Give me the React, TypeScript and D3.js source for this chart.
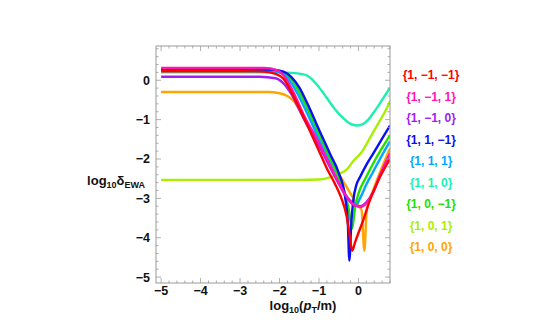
import React from "react";
import * as d3 from "d3";

// x = log10(pT/m), y = log10(delta_EWA)
const labels = ["{1, −1, −1}", "{1, −1, 1}", "{1, −1, 0}", "{1, 1, −1}", "{1, 1, 1}", "{1, 1, 0}", "{1, 0, −1}", "{1, 0, 1}", "{1, 0, 0}"];
const colors = ["#ff0000", "#ff14b4", "#a020f0", "#0a10f0", "#00a8ff", "#1cf0b0", "#22e000", "#aaee00", "#ffa500"];

const red: [number, number][] = [[-5, 0.23], [-3, 0.23], [-2.4, 0.22], [-2.1, 0.16], [-1.9, 0.04], [-1.7, -0.3], [-1.5, -0.7], [-1.35, -1.02], [-1.2, -1.35], [-0.97, -1.86], [-0.8, -2.24], [-0.6, -2.62], [-0.45, -2.95], [-0.3, -3.45], [-0.22, -3.95], [-0.16, -4.33], [-0.08, -4.1], [0, -3.88], [0.12, -3.56], [0.29, -3.05], [0.5, -2.55], [0.8, -2.0]];
const magenta: [number, number][] = [[-5, 0.31], [-2.4, 0.31], [-2.05, 0.25], [-1.85, 0.06], [-1.65, -0.3], [-1.4, -0.85], [-0.97, -1.65], [-0.7, -2.2], [-0.5, -2.6], [-0.3, -2.95], [-0.1, -3.17], [0.04, -3.22], [0.2, -3.12], [0.37, -2.85], [0.55, -2.4], [0.8, -1.85]];
const purple: [number, number][] = [[-5, 0.09], [-2.5, 0.09], [-2.1, 0.05], [-1.9, -0.08], [-1.7, -0.35], [-1.4, -0.95], [-0.97, -1.72], [-0.7, -2.25], [-0.5, -2.63], [-0.3, -2.97], [-0.1, -3.18], [0.04, -3.2], [0.2, -3.1], [0.37, -2.85], [0.55, -2.42], [0.8, -1.88]];
const blue: [number, number][] = [[-5, 0.27], [-2.2, 0.27], [-1.9, 0.22], [-1.7, 0.08], [-1.5, -0.18], [-1.3, -0.58], [-0.97, -1.32], [-0.7, -1.91], [-0.5, -2.35], [-0.34, -2.95], [-0.27, -3.6], [-0.23, -4.58], [-0.18, -3.6], [-0.13, -3.05], [-0.05, -2.65], [0.04, -2.46], [0.2, -2.15], [0.37, -1.87], [0.6, -1.48], [0.8, -1.15]];
const lightBlue: [number, number][] = [[-5, 0.25], [-2.3, 0.25], [-1.95, 0.18], [-1.75, 0.0], [-1.55, -0.33], [-1.3, -0.84], [-0.97, -1.57], [-0.7, -2.16], [-0.5, -2.6], [-0.3, -2.95], [-0.15, -3.1], [-0.05, -3.15], [0.05, -2.98], [0.2, -2.65], [0.37, -2.33], [0.6, -1.9], [0.8, -1.55]];
const cyan: [number, number][] = [[-5, 0.2], [-2.0, 0.2], [-1.6, 0.18], [-1.3, 0.12], [-1.0, -0.18], [-0.8, -0.45], [-0.6, -0.73], [-0.4, -0.95], [-0.2, -1.11], [-0.05, -1.15], [0.1, -1.12], [0.25, -1.0], [0.4, -0.8], [0.6, -0.5], [0.8, -0.19]];
const green: [number, number][] = [[-5, 0.27], [-2.2, 0.27], [-1.9, 0.2], [-1.7, 0.03], [-1.5, -0.3], [-1.3, -0.71], [-0.97, -1.44], [-0.7, -2.03], [-0.5, -2.47], [-0.35, -2.85], [-0.25, -3.25], [-0.16, -3.77], [-0.08, -3.2], [0, -2.88], [0.2, -2.45], [0.37, -2.12], [0.6, -1.72], [0.8, -1.4]];
const yellowGreen: [number, number][] = [[-5, -2.53], [-1.5, -2.53], [-1.0, -2.52], [-0.7, -2.46], [-0.5, -2.38], [-0.3, -2.27], [-0.13, -2.05], [0.1, -1.8], [0.29, -1.47], [0.5, -1.1], [0.7, -0.75], [0.8, -0.53]];
const orange: [number, number][] = [[-5, -0.3], [-2.3, -0.3], [-2.0, -0.33], [-1.8, -0.4], [-1.65, -0.52], [-1.3, -1.1], [-0.97, -1.62], [-0.7, -2.06], [-0.4, -2.54], [-0.2, -2.88], [-0.05, -3.13], [0.08, -3.3], [0.15, -4.33], [0.21, -3.3], [0.37, -2.8], [0.6, -2.2], [0.8, -1.73]];

const series = [red, magenta, purple, blue, lightBlue, cyan, green, yellowGreen, orange];
const xTicks = [-5, -4, -3, -2, -1, 0];
const yTicks = [0, -1, -2, -3, -4, -5];

const W = 548, H = 329;
const L = 156, R = 390, T = 46, B = 283;

export default function App() {
  const x = d3.scaleLinear().domain([-5.13, 0.8]).range([L, R]);
  const y = d3.scaleLinear().domain([0.87, -5.15]).range([T, B]);
  const line = d3.line<[number, number]>().x(d => x(d[0])).y(d => y(d[1])).curve(d3.curveMonotoneX);

  const xMinor = d3.range(-5.2, 0.81, 0.2).filter(v => v >= -5.13 && v <= 0.8);
  const yMinor = d3.range(0.8, -5.21, -0.2).filter(v => v <= 0.87 && v >= -5.15);
  const font = "'Liberation Sans', Arial, sans-serif";
  const frame = "#9a9a9a";

  return (
    <svg width={W} height={H} style={{ position: "absolute", left: 0, top: 0, background: "#fff" }}>
      <defs>
        <clipPath id="plot"><rect x={L} y={T} width={R - L} height={B - T} /></clipPath>
      </defs>
      <g clipPath="url(#plot)" fill="none" strokeWidth={2.4} strokeLinejoin="round">
        {series.map((s, i) => ({ s, i })).reverse().map(({ s, i }) => (
          <path key={i} d={line(s) || ""} stroke={colors[i]} />
        ))}
      </g>
      <rect x={L} y={T} width={R - L} height={B - T} fill="none" stroke={frame} strokeWidth={1} />
      <g stroke={frame} strokeWidth={0.8}>
        {xMinor.map((v, i) => {
          const major = xTicks.some(t => Math.abs(t - v) < 1e-6);
          const len = major ? 5 : 2.5;
          return (
            <g key={"x" + i}>
              <line x1={x(v)} x2={x(v)} y1={B} y2={B - len} />
              <line x1={x(v)} x2={x(v)} y1={T} y2={T + len} />
            </g>
          );
        })}
        {yMinor.map((v, i) => {
          const major = yTicks.some(t => Math.abs(t - v) < 1e-6);
          const len = major ? 5 : 2.5;
          return (
            <g key={"y" + i}>
              <line x1={L} x2={L + len} y1={y(v)} y2={y(v)} />
              <line x1={R} x2={R - len} y1={y(v)} y2={y(v)} />
            </g>
          );
        })}
      </g>
      <g fontFamily={font} fontWeight="bold" fontSize={12.5} fill="#111">
        {xTicks.map(t => (
          <text key={t} x={x(t)} y={B + 12} textAnchor="middle">{t < 0 ? "−" + Math.abs(t) : t}</text>
        ))}
        {yTicks.map(t => (
          <text key={t} x={L - 6} y={y(t) + 4.5} textAnchor="end">{t < 0 ? "−" + Math.abs(t) : t}</text>
        ))}
      </g>
      <text x={145} y={185} textAnchor="end" fontFamily={font} fontWeight="bold" fontSize={13} fill="#111">
        log<tspan fontSize={9} dy={3}>10</tspan><tspan dy={-3}>δ</tspan><tspan fontSize={9} dy={3}>EWA</tspan>
      </text>
      <text x={(L + R) / 2 + 30} y={310} textAnchor="middle" fontFamily={font} fontWeight="bold" fontSize={13} fill="#111">
        log<tspan fontSize={9} dy={3}>10</tspan><tspan dy={-3}>(</tspan><tspan fontStyle="italic">p</tspan><tspan fontSize={9} dy={3}>T</tspan><tspan dy={-3}>/m)</tspan>
      </text>
      <g fontFamily={font} fontWeight="bold" fontSize={12}>
        {labels.map((lab, i) => (
          <text key={lab} x={431} y={79 + i * 21.5} textAnchor="middle" fill={colors[i]}>{lab}</text>
        ))}
      </g>
    </svg>
  );
}
